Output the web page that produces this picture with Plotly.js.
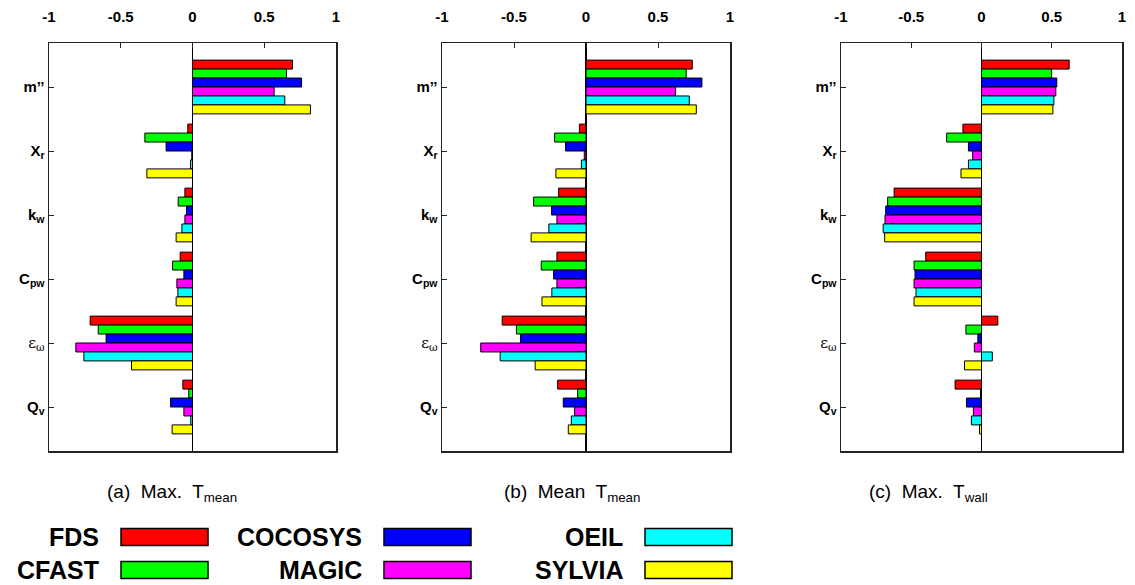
<!DOCTYPE html>
<html>
<head>
<meta charset="utf-8">
<script src="https://cdn.plot.ly/plotly-3.0.1.min.js"></script>
<style>html,body{margin:0;padding:0;background:#fff;overflow:hidden;}#chart{width:1135px;height:585px;}</style>
</head>
<body>
<div id="chart"></div>
<script>
// ---- data ----
const parameters = ["m''", "X_r", "k_w", "C_pw", "eps_omega", "Q_v"];
const paramLabels = [
  "<b>m’’</b>",
  "<b>X<sub>r</sub></b>",
  "<b>k<sub>w</sub></b>",
  "<b>C<sub>pw</sub></b>",
  "<span style='font-family:DejaVu Serif;font-weight:normal'>ε<sub>ω</sub></span>",
  "<b>Q<sub>v</sub></b>"
];
const codes = ["FDS", "CFAST", "COCOSYS", "MAGIC", "OEIL", "SYLVIA"];
const codeColors = ["#ff0000", "#00ff00", "#0000ff", "#ff00ff", "#00ffff", "#ffff00"];
const panelTitles = ["(a)  Max.  T<sub>mean</sub>", "(b)  Mean  T<sub>mean</sub>", "(c)  Max.  T<sub>wall</sub>"];
const xTickVals = [-1, -0.5, 0, 0.5, 1];
const xTickText = ["-1", "-0.5", "0", "0.5", "1"];

// sensitivity values: [code][parameter]
const maxTmean = {
  FDS:     [0.697, -0.033, -0.053, -0.086, -0.713, -0.067],
  CFAST:   [0.655, -0.332, -0.100, -0.139, -0.657, -0.026],
  COCOSYS: [0.760, -0.184, -0.042, -0.060, -0.602, -0.153],
  MAGIC:   [0.569, -0.005, -0.053, -0.109, -0.813, -0.060],
  OEIL:    [0.643, -0.014, -0.074, -0.102, -0.757, -0.012],
  SYLVIA:  [0.822, -0.318, -0.114, -0.114, -0.425, -0.142]
};
const meanTmean = {
  FDS:     [0.738, -0.046, -0.190, -0.202, -0.582, -0.197],
  CFAST:   [0.696, -0.218, -0.364, -0.311, -0.483, -0.058],
  COCOSYS: [0.805, -0.142, -0.239, -0.225, -0.455, -0.158],
  MAGIC:   [0.622, -0.012, -0.202, -0.202, -0.731, -0.079],
  OEIL:    [0.717, -0.032, -0.258, -0.237, -0.596, -0.102],
  SYLVIA:  [0.766, -0.209, -0.381, -0.306, -0.353, -0.123]
};
const maxTwall = {
  FDS:     [0.624, -0.132, -0.622, -0.397,  0.116, -0.188],
  CFAST:   [0.499, -0.248, -0.668, -0.480, -0.111, -0.007],
  COCOSYS: [0.536, -0.093, -0.682, -0.473, -0.026, -0.107],
  MAGIC:   [0.529, -0.063, -0.687, -0.480, -0.051, -0.058],
  OEIL:    [0.515, -0.093, -0.700, -0.466,  0.077, -0.072],
  SYLVIA:  [0.508, -0.146, -0.689, -0.480, -0.121, -0.014]
};
const panels = [maxTmean, meanTmean, maxTwall];

// ---- layout geometry ----
const W = 1135, H = 585;
const px = v => v / W, py = v => 1 - v / H;
const xDomains = [[49, 336], [442, 730], [841, 1122]];
const yDomain = [py(451), py(43)];
const titleX = [172, 572, 928];

const traces = [];
const layout = {
  width: W, height: H,
  margin: {l: 0, r: 0, t: 0, b: 0},
  paper_bgcolor: "#fff", plot_bgcolor: "#fff",
  barmode: "group", bargap: 0.16, bargroupgap: 0,
  showlegend: false,
  font: {family: "Liberation Sans, Arial, sans-serif", color: "#000"},
  annotations: [], shapes: []
};
const yIdx = parameters.map((_, i) => i);

panels.forEach((panel, p) => {
  const n = p === 0 ? "" : String(p + 1);
  codes.forEach((c, k) => {
    traces.push({
      type: "bar", orientation: "h",
      x: panel[c], y: yIdx, name: c,
      xaxis: "x" + n, yaxis: "y" + n,
      marker: {color: codeColors[k], line: {color: "#000", width: 1}},
      hoverinfo: "x+name"
    });
  });
  layout["xaxis" + n] = {
    domain: [px(xDomains[p][0]), px(xDomains[p][1])],
    anchor: "y" + n, side: "top", range: [-1, 1],
    tickvals: xTickVals, ticktext: xTickText,
    ticks: "inside", ticklen: 5, tickcolor: "#222",
    ticklabelstandoff: 14, ticklabeloverflow: "allow",
    tickfont: {size: 15, family: "Liberation Sans, Arial, sans-serif", weight: "bold"},
    showline: true, mirror: true, linecolor: "#222", linewidth: 1.5,
    showgrid: false, zeroline: true, zerolinecolor: "#000", zerolinewidth: 1.5,
    automargin: false, fixedrange: true
  };
  layout["yaxis" + n] = {
    domain: yDomain, anchor: "x" + n,
    range: [5.6875, -0.6875],
    tickvals: yIdx, ticktext: paramLabels,
    ticks: "inside", ticklen: 5, tickcolor: "#222",
    tickfont: {size: 15, family: "Liberation Sans, Arial, sans-serif"},
    showline: true, mirror: true, linecolor: "#222", linewidth: 1.5,
    showgrid: false, zeroline: false, automargin: false, fixedrange: true
  };
  layout.annotations.push({
    xref: "paper", yref: "paper", x: px(titleX[p]), y: py(493),
    xanchor: "center", yanchor: "middle", showarrow: false,
    text: panelTitles[p],
    font: {size: 19, family: "Liberation Sans, Arial, sans-serif"}
  });
});

// legend (3 columns x 2 rows, label left of swatch)
const legSwatchLeft = [121, 384, 645], legSwatchW = 87, legSwatchH = 17;
const legRowY = [537, 570];
codes.forEach((c, k) => {
  const col = Math.floor(k / 2), row = k % 2;
  const x0 = legSwatchLeft[col], yc = legRowY[row];
  layout.shapes.push({
    type: "rect", xref: "paper", yref: "paper",
    x0: px(x0), x1: px(x0 + legSwatchW),
    y0: py(yc + legSwatchH / 2), y1: py(yc - legSwatchH / 2),
    fillcolor: codeColors[k], line: {color: "#000", width: 1.5}
  });
  layout.annotations.push({
    xref: "paper", yref: "paper", x: px(x0 - 20), y: py(yc),
    xanchor: "right", yanchor: "middle", showarrow: false,
    text: "<b>" + c + "</b>",
    font: {size: 25, family: "Liberation Sans, Arial, sans-serif"}
  });
});

Plotly.newPlot("chart", traces, layout, {displayModeBar: false, staticPlot: true});
</script>
</body>
</html>
